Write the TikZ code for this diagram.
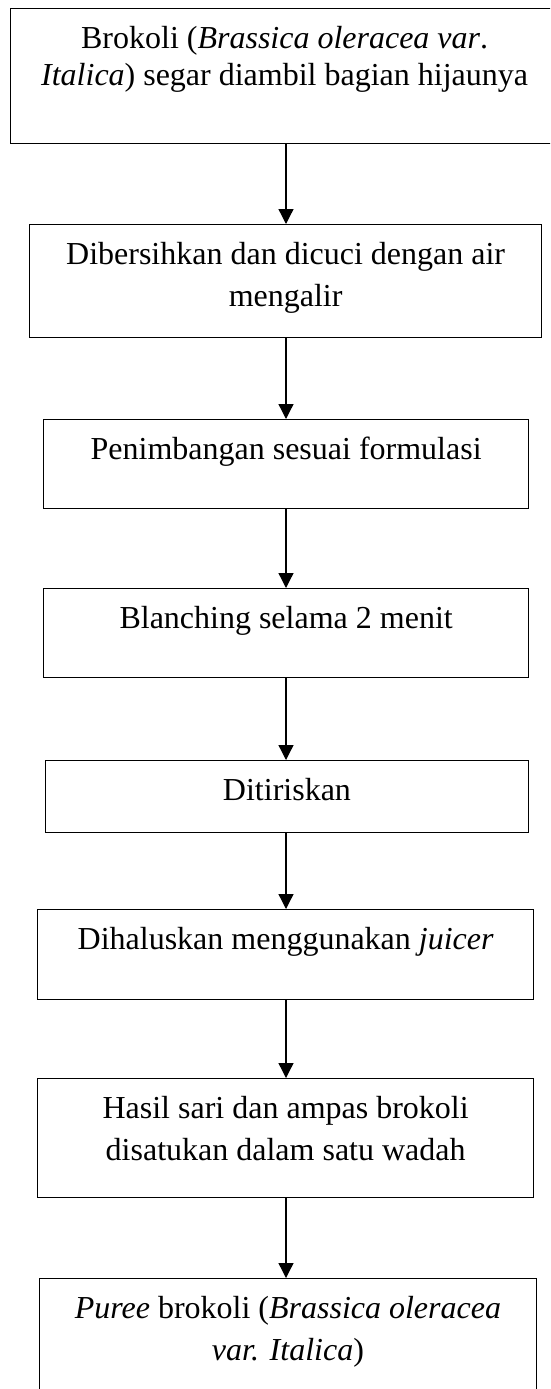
\documentclass[tikz,border=0pt]{standalone}
\usepackage{fontspec}
\setmainfont{Liberation Serif}
\usetikzlibrary{arrows.meta}
\newcommand{\steptext}[3]{\parbox[c][#2][t]{#1}{\centering\rule{0pt}{40pt}#3}}

\begin{document}
\begin{tikzpicture}[x=1pt,y=-1pt,line width=1.3pt,
  stepbox/.style={draw,inner sep=0pt,anchor=north west,font=\fontsize{32}{42}\selectfont},
  flowarrow/.style={-{Triangle[length=15pt,width=15pt]}}]
\useasboundingbox(0,0)rectangle(550,1389);
\clip(0,0)rectangle(550,1389);
\coordinate (spine) at (286,0);
\node[stepbox,font=\fontsize{32}{37}\selectfont] (s1) at (10,8)
  {\steptext{548pt}{135pt}{Brokoli (\textit{Brassica oleracea var}.\\\textit{Italica}) segar diambil bagian hijaunya}};
\node[stepbox] (s2) at (29,224) {\steptext{512pt}{113pt}{Dibersihkan dan dicuci dengan air\\mengalir}};
\node[stepbox] (s3) at (43,419) {\steptext{485pt}{89pt}{Penimbangan sesuai formulasi}};
\node[stepbox] (s4) at (43,588) {\steptext{485pt}{89pt}{Blanching selama 2 menit}};
\node[stepbox] (s5) at (44.6,760) {\steptext{483.4pt}{72pt}{Ditiriskan}};
\node[stepbox] (s6) at (37,909) {\steptext{496pt}{90pt}{Dihaluskan menggunakan \textit{juicer}}};
\node[stepbox] (s7) at (37,1078) {\steptext{496pt}{119pt}{Hasil sari dan ampas brokoli\\disatukan dalam satu wadah}};
\node[stepbox] (s8) at (38.6,1278) {\steptext{497.4pt}{130pt}{\textit{Puree} brokoli (\textit{Brassica oleracea}\\\textit{var. Italica})}};
\foreach \a/\b in {s1/s2,s2/s3,s3/s4,s4/s5,s5/s6,s6/s7,s7/s8}
  \draw[flowarrow](\a.south -| spine)--(\b.north -| spine);
\end{tikzpicture}
\end{document}
